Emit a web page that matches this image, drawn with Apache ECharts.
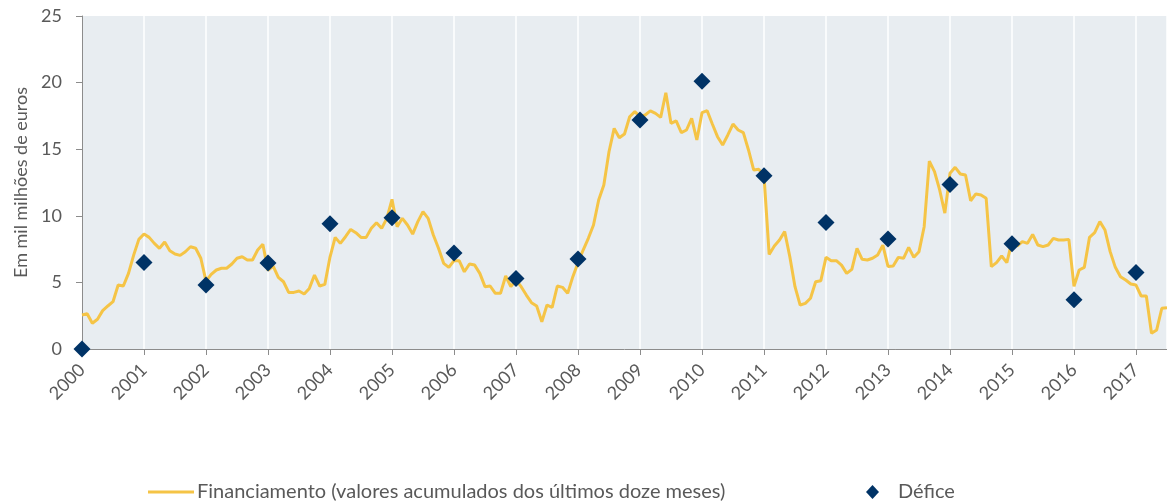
<!DOCTYPE html>
<html>
<head>
<meta charset="utf-8">
<script src="https://cdn.jsdelivr.net/npm/echarts@6/dist/echarts.min.js"></script>
<style>
  html, body { margin: 0; padding: 0; background: #fff; }
  #chart { width: 1167px; height: 504px; }
</style>
</head>
<body>
<div id="chart"></div>
<script>
// valores mensais, jan 2000 -> jul 2017
const financiamento = [
  2.55, 2.65, 1.93, 2.23, 2.88, 3.23, 3.55, 4.8, 4.73, 5.68, 7.05, 8.23,
  8.63, 8.38, 7.93, 7.56, 8.03, 7.38, 7.13, 7.03, 7.3, 7.68, 7.56, 6.81,
  5.1, 5.6, 5.93, 6.06, 6.06, 6.38, 6.81, 6.93, 6.68, 6.68, 7.43, 7.86,
  5.9, 6.23, 5.38, 5.05, 4.25, 4.25, 4.35, 4.13, 4.55, 5.55, 4.73, 4.85,
  6.9, 8.38, 7.93, 8.43, 8.98, 8.73, 8.38, 8.38, 9.06, 9.48, 9.06, 9.81,
  11.24, 9.18, 9.81, 9.31, 8.63, 9.56, 10.31, 9.81, 8.56, 7.56, 6.43, 6.13,
  6.63, 6.63, 5.8, 6.38, 6.3, 5.68, 4.68, 4.73, 4.18, 4.18, 5.48, 4.68,
  5.18, 4.68, 4.05, 3.48, 3.23, 2.05, 3.3, 3.13, 4.73, 4.63, 4.18, 5.43,
  6.48, 7.43, 8.31, 9.31, 11.19, 12.31, 14.81, 16.56, 15.86, 16.14, 17.44, 17.82,
  17.44, 17.57, 17.88, 17.69, 17.39, 19.24, 16.94, 17.12, 16.24, 16.44, 17.32, 15.69,
  17.74, 17.89, 16.89, 15.94, 15.32, 16.07, 16.89, 16.44, 16.24, 14.94, 13.44, 13.49,
  13.0, 7.1, 7.73, 8.18, 8.81, 6.93, 4.68, 3.3, 3.43, 3.81, 5.05, 5.13,
  6.88, 6.63, 6.63, 6.3, 5.68, 5.98, 7.56, 6.73, 6.68, 6.81, 7.06, 7.8,
  6.2, 6.23, 6.88, 6.81, 7.63, 6.88, 7.31, 9.18, 14.1, 13.31, 11.94, 10.2,
  13.2, 13.64, 13.14, 13.06, 11.13, 11.64, 11.56, 11.31, 6.18, 6.48, 6.98, 6.48,
  8.1, 7.73, 8.06, 7.93, 8.6, 7.81, 7.68, 7.81, 8.31, 8.18, 8.18, 8.23,
  4.7, 5.93, 6.13, 8.38, 8.73, 9.56, 8.93, 7.31, 6.13, 5.43, 5.18, 4.88,
  4.8, 3.98, 3.98, 1.18, 1.43, 3.06, 3.1
];

const anos = [2000, 2001, 2002, 2003, 2004, 2005, 2006, 2007, 2008,
  2009, 2010, 2011, 2012, 2013, 2014, 2015, 2016, 2017];
const defice = [0, 6.5, 4.8, 6.45, 9.4, 9.85, 7.2, 5.3, 6.75,
  17.2, 20.1, 13.0, 9.5, 8.25, 12.35, 7.9, 3.7, 5.75];

const nomeLinha = 'Financiamento (valores acumulados dos últimos doze meses)';
const nomeDefice = 'Défice';

const fonte = 'Lato, "Open Sans", sans-serif';
const cinza = '#595959';

function init(id) {
  const chart = echarts.init(document.getElementById(id));

  // cada mes fica em ano + m/12 no eixo
  const linha = financiamento.map((v, i) => [anos[0] + i / 12, v]);
  const pontos = anos.map((a, i) => [a, defice[i]]);

  const option = {
    animation: false,
    textStyle: { fontFamily: fonte, color: cinza },
    grid: { left: 82, top: 16, right: 0, bottom: 155, containLabel: false },
    xAxis: {
      type: 'value',
      min: 2000,
      max: 2017.5,
      interval: 1,
      axisLine: { show: true, lineStyle: { color: '#8c8c8c', width: 1 } },
      axisTick: { show: true, length: 6, lineStyle: { color: '#8c8c8c' } },
      axisLabel: {
        rotate: 45,
        fontSize: 18,
        color: cinza,
        fontFamily: fonte,
        margin: 18,
        showMaxLabel: false,
        formatter: v => String(Math.round(v))
      },
      splitLine: { show: true, lineStyle: { color: '#ffffff', width: 1.5 } }
    },
    yAxis: {
      type: 'value',
      min: 0,
      max: 25,
      interval: 5,
      name: 'Em mil milhões de euros',
      nameLocation: 'middle',
      nameGap: 51,
      nameTextStyle: { fontSize: 18, color: cinza, fontFamily: fonte },
      axisLine: { show: true, lineStyle: { color: '#8c8c8c', width: 1 } },
      axisTick: { show: true, length: 6, lineStyle: { color: '#8c8c8c' } },
      axisLabel: { fontSize: 18, color: cinza, fontFamily: fonte, margin: 20 },
      splitLine: { show: false },
      splitArea: { show: false }
    },
    legend: [
      {
        data: [nomeLinha],
        left: 148,
        top: 482,
        padding: 0,
        icon: 'rect',
        itemWidth: 46,
        itemHeight: 3,
        textStyle: { fontSize: 20, color: cinza, fontFamily: fonte, padding: [0, 0, 0, -2] }
      },
      {
        data: [nomeDefice],
        left: 866,
        top: 482,
        padding: 0,
        icon: 'diamond',
        itemWidth: 13,
        itemHeight: 14,
        textStyle: { fontSize: 20, color: cinza, fontFamily: fonte, padding: [0, 0, 0, 14] }
      }
    ],
    series: [
      {
        name: nomeLinha,
        type: 'line',
        data: linha,
        showSymbol: false,
        color: '#F5C446',
        lineStyle: { width: 3, color: '#F5C446' },
        z: 2
      },
      {
        name: nomeDefice,
        type: 'scatter',
        data: pontos,
        symbol: 'diamond',
        symbolSize: 17,
        color: '#003366',
        itemStyle: { color: '#003366', opacity: 1 },
        z: 3
      }
    ]
  };

  chart.setOption(option);
  return chart;
}

const chart = init('chart');

// fundo da area de plotagem a cinzento azulado
chart.setOption({
  graphic: [{
    type: 'rect',
    z: -1,
    silent: true,
    shape: {
      x: 82,
      y: 16,
      width: 1167 - 82,
      height: 504 - 155 - 16
    },
    style: { fill: '#E8EDF1' }
  }]
});
</script>
</body>
</html>
